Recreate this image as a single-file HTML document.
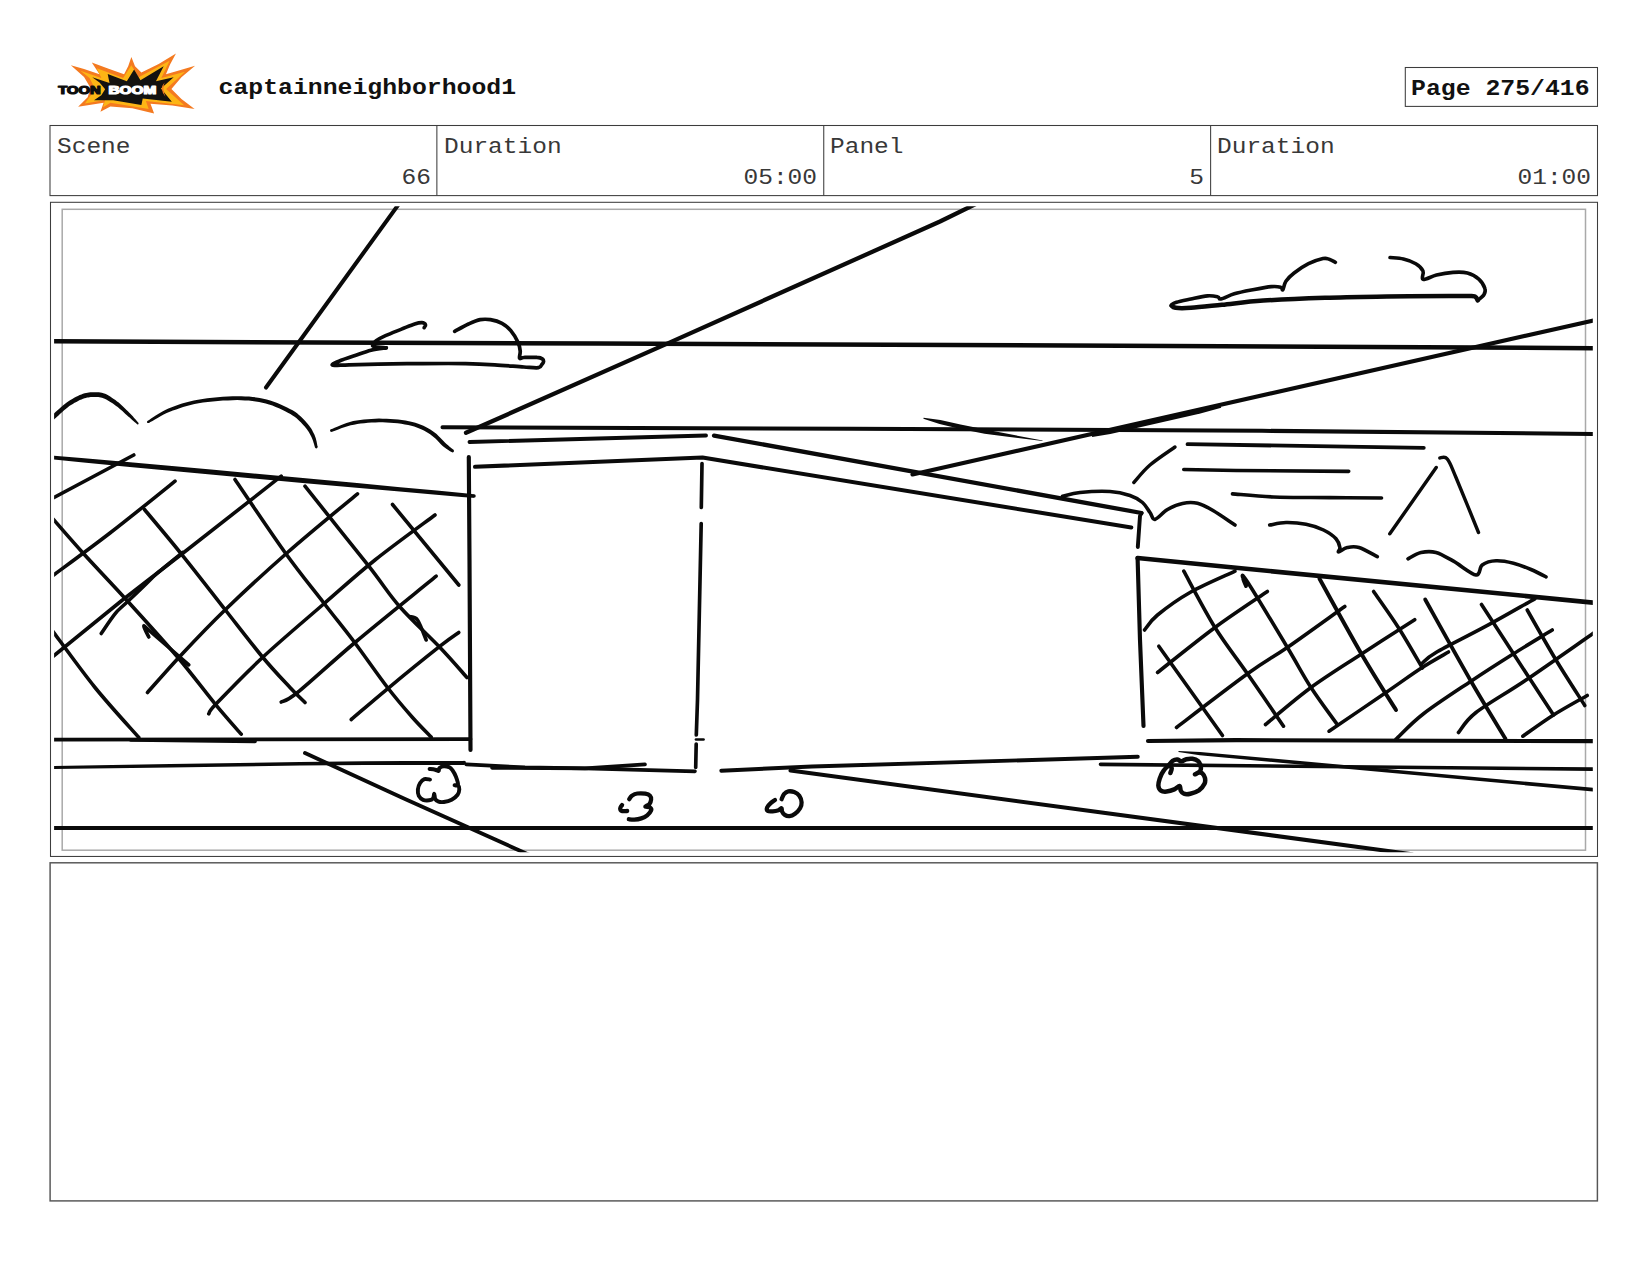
<!DOCTYPE html>
<html lang="en">
<head>
<meta charset="utf-8">
<title>captainneighborhood1 - Page 275/416</title>
<style>
  html, body { margin: 0; padding: 0; background: #fff; }
  body { width: 1648px; height: 1276px; position: relative; overflow: hidden;
         font-family: "Liberation Mono", monospace; color: #1a1a1a; }
  .abs { position: absolute; box-sizing: border-box; }
  .box { border: 1px solid transparent; background: transparent; }
  #title { left: 218.5px; top: 72.6px; font-size: 24.8px; line-height: 28px; font-weight: bold; color: #111; white-space: pre; transform-origin: 0 20.6px; transform: scaleY(0.86); }
  #pagebox { left: 1405px; top: 67px; width: 193px; height: 40px; }
  #pagebox span { position: absolute; left: 5px; top: 6px; font-size: 24.8px; line-height: 28px; font-weight: bold; color: #111; white-space: pre; transform-origin: 0 20.6px; transform: scaleY(0.86); }
  #table { left: 50px; top: 125px; width: 1548px; height: 71px; }
  .cell { position: absolute; top: 0; height: 69px; box-sizing: border-box; }
  .cell + .cell { border-left: 1px solid transparent; }
  .lbl { position: absolute; left: 6px; top: 6.5px; font-size: 24.5px; line-height: 28px; white-space: pre; color: #383838; transform-origin: 0 20.4px; transform: scaleY(0.91); }
  .val { position: absolute; right: 6px; top: 38px; font-size: 24.5px; line-height: 28px; white-space: pre; color: #383838; transform-origin: 0 20.4px; transform: scaleY(0.91); }
  #sketchbox { left: 50px; top: 202px; width: 1548px; height: 655px; }
  #sketch { left: 0; top: 0; }
  #logo { left: 54px; top: 48px; }
</style>
</head>
<body>

<!-- frames (fractional coords reproduce the soft anti-aliased rules) -->
<svg id="frames" class="abs" style="left:0;top:0" width="1648" height="1276" viewBox="0 0 1648 1276">
  <g fill="none" stroke="#3d3d3d" stroke-width="1.05">
    <rect x="1405.3" y="67.5" width="192.2" height="38.9"/>
    <rect x="50" y="125.5" width="1547.5" height="70.1"/>
    <path d="M436.87 125.5V195.6M823.75 125.5V195.6M1210.62 125.5V195.6"/>
    <rect x="50.5" y="202.3" width="1547" height="654.15"/>
  </g>
  <rect x="50.1" y="862.8" width="1547.3" height="338.1" fill="none" stroke="#555" stroke-width="1.45"/>
</svg>

<!-- header -->
<svg id="logo" class="abs" width="150" height="68" viewBox="0 0 1648 747">
  <polygon fill="#f47a20" points="185,190 330,232 500,288 415,160 600,228 770,288 815,200 850,100 890,200 960,268 1150,175 1340,60 1275,180 1230,288 1400,238 1550,195 1400,320 1290,450 1400,560 1545,670 1300,632 1060,612 1100,720 860,662 620,642 510,700 545,602 265,645 370,540 402,440 330,318"/>
  <polygon fill="#fdb515" points="290,250 520,330 470,222 760,330 850,190 930,320 1270,140 1180,330 1440,260 1232,450 1430,630 1010,582 1040,670 620,602 540,650 560,572 340,610 452,450 390,330"/>
  <polygon fill="#141210" points="420,320 610,385 590,285 800,365 880,235 950,355 1205,200 1120,365 1315,320 1175,445 1295,590 975,555 960,625 650,575 440,575 520,520 562,452 500,380"/>
  <path fill="#f47a20" d="M1215,380 Q1150,450 1225,535 Q1185,450 1215,380Z"/>
  <g font-family="'Liberation Sans', sans-serif" font-weight="bold" font-size="116" stroke-width="13" stroke-linejoin="round">
    <text x="46" y="509" textLength="466" lengthAdjust="spacingAndGlyphs" fill="#0d0d0d" stroke="#0d0d0d">TOON</text>
    <text x="598" y="509" textLength="526" lengthAdjust="spacingAndGlyphs" fill="#ffffff" stroke="#ffffff">BOOM</text>
  </g>
</svg>
<div id="title" class="abs">captainneighborhood1</div>
<div id="pagebox" class="abs box"><span>Page 275/416</span></div>

<!-- info table -->
<div id="table" class="abs box">
  <div class="cell" style="left:0;width:386px"><span class="lbl">Scene</span><span class="val">66</span></div>
  <div class="cell" style="left:386px;width:386px"><span class="lbl">Duration</span><span class="val">05:00</span></div>
  <div class="cell" style="left:772px;width:387px"><span class="lbl">Panel</span><span class="val">5</span></div>
  <div class="cell" style="left:1159px;width:387px"><span class="lbl">Duration</span><span class="val">01:00</span></div>
</div>

<!-- sketch panel -->
<div id="sketchbox" class="abs box"></div>
<svg id="sketch" class="abs" width="1648" height="1276" viewBox="0 0 1648 1276">
  <defs><clipPath id="clip"><rect x="54.1" y="206.2" width="1538.7" height="646"/></clipPath></defs>
  <rect x="62.2" y="209.3" width="1523.3" height="640.9" fill="none" stroke="#a9a9a9" stroke-width="1.5"/>
  <g clip-path="url(#clip)" fill="none" stroke="#0a0a0a" stroke-linecap="round" stroke-linejoin="round">
  <!-- STROKES -->
  <!-- long perspective / horizon lines -->
  <path d="M401.9 199.8 L266 387.5" stroke-width="4.03"/>
  <path d="M48 341.3 L600 343.6 L1120 345.8 L1598 348.2" stroke-width="4.51"/>
  <path d="M442.5 427.2 L852 428.8 L1262 430.8 L1598 434" stroke-width="4.03"/>
  <path d="M466 432.8 L670 342.4 L940 221.5 L979.7 202.1" stroke-width="4.27"/>
  <path d="M912.5 474.5 L1597.9 319.4" stroke-width="4.15"/>
  <path d="M1092.2 437 L1110.4 433.9 L1200.4 413.5 L1221.2 407.8 L1220.8 406 L1199.6 409.9 L1109.6 430.3 L1091.8 435.6Z" fill="#0a0a0a" stroke="none"/>
  <path d="M923.4 418.7 L939.6 423.9 L959.5 428.8 L984.6 433.7 L1009.8 436.9 L1042.4 441.1 L1042.6 440.5 L1010.2 434.3 L985.4 429.5 L960.5 424.4 L940.4 420.1 L923.6 417.7Z" fill="#0a0a0a" stroke="none"/>
  <!-- building -->
  <path d="M469.5 442 L706 435.5" stroke-width="3.9"/>
  <path d="M714 435.6 L1141.5 513" stroke-width="4.27"/>
  <path d="M475 466.8 L702.5 457.6 L1131.3 527.5" stroke-width="4.03"/>
  <path d="M468.8 457 L469.5 560 L470.5 750" stroke-width="4.15"/>
  <path d="M1141.5 513 L1140 516 L1137.8 547" stroke-width="3.9"/>
  <path d="M1137.6 558 L1140 640 L1143.5 726" stroke-width="4.15"/>
  <path d="M702 463.5 L701.3 507.5" stroke-width="3.66"/>
  <path d="M701.2 523.5 L697.5 700 L696.3 735" stroke-width="3.66"/>
  <path d="M696 739.5 L703.5 739.5" stroke-width="2.68"/>
  <path d="M696.2 744 L695.7 767.5" stroke-width="3.66"/>
  <path d="M721.3 770.7 L812 766.5 L1137.8 756.8" stroke-width="3.9"/>
  <path d="M466.3 764.3 L525 767.4 L585 768.3 L695 771.3" stroke-width="3.66"/>
  <path d="M492 767.8 L585 768.3 L645 764.3" stroke-width="3.66"/>
  <!-- ground lines -->
  <path d="M48 828.1 L1598 828.1" stroke-width="3.96"/>
  <path d="M48 766 L35.1 769.4 L53 769.1 L170.3 767.4 L300 765.5 L364.3 765.1 L405 765 L441.1 764.9 L464 764.9 L464 760.9 L441.1 760.9 L405 761 L364.2 761.3 L300 762.1 L170.2 764 L53 765.9 L35 766.2 L48 769.2Z" fill="#0a0a0a" stroke="none"/><circle cx="48" cy="767.6" r="1.60" fill="#0a0a0a" stroke="none"/><circle cx="464" cy="762.9" r="2.05" fill="#0a0a0a" stroke="none"/>
  <path d="M48 739.7 L470.5 739.1" stroke-width="3.78"/>
  <path d="M131 739.9 L255 741.3" stroke-width="3.78"/>
  <path d="M305 753 L405 799.1 L533.1 856.6" stroke-width="3.9"/>
  <path d="M1148 741 L1236 740.1 L1598 741.2" stroke-width="4.15"/>
  <path d="M1100.5 764.3 L1598 769.2" stroke-width="3.66"/>
  <path d="M1178.4 752 L1199.8 755.2 L1299.8 764.6 L1597.8 791.9 L1598.2 788.3 L1300.2 761 L1200.2 752 L1178.6 751Z" fill="#0a0a0a" stroke="none"/>
  <path d="M790.5 770.6 L1411.9 854.2" stroke-width="4.03"/>
  <!-- fences top rails -->
  <path d="M48.2 455.4 L45.5 458.8 L52.8 459.4 L81 462.3 L129.8 467.1 L213.3 474.8 L299.8 482.7 L356.5 487.7 L399.8 491.4 L436.3 494.7 L461.8 496.9 L471.7 497.7 L473.8 497.8 L474.2 494.4 L472 494.1 L462.2 493.1 L436.7 490.6 L400.2 487.2 L357 483.1 L300.2 477.7 L213.8 469.8 L130.2 462.2 L81.4 458 L53.2 455.8 L45.9 455.1 L47.8 458.9Z" fill="#0a0a0a" stroke="none"/><circle cx="48" cy="457.1" r="1.80" fill="#0a0a0a" stroke="none"/><circle cx="474" cy="496.1" r="1.75" fill="#0a0a0a" stroke="none"/>
  <path d="M1137.6 558 L1236 567.8 L1598 603.1" stroke-width="4.51"/>
  <!-- small cloud (left) -->
  <path d="M424.1 327.7 C424.4 327.2 426 325.6 425.6 324.8 C425.2 324 423.7 322.7 421.9 322.6 C420.1 322.5 418.1 322.9 414.7 324 C411.3 325.1 406.4 327.2 401.5 329.1 C396.6 331.1 389.7 333.8 385.5 335.7 C381.3 337.6 378.2 339.4 376.1 340.8 C374.1 342.2 373.6 343.4 373.2 344.4 C372.8 345.4 371.7 346 373.9 346.6 C376.1 347.2 384.2 347.6 386.3 347.8" stroke-width="3.6"/>
  <path d="M386.3 347.8 C383.8 348.2 376.5 348.8 371 350.2 C365.5 351.6 358.9 354.3 353.5 356.1 C348.1 357.9 342.4 359.8 338.9 361.2 C335.4 362.6 333.3 363.6 332.6 364.3 C331.9 365 331.9 365.3 334.6 365.4 C337.4 365.5 341.8 365 349.1 364.8 C356.4 364.6 366.1 364.3 378.2 364.1 C390.3 363.9 407.3 363.7 421.9 363.6 C436.5 363.5 453.5 363.4 465.6 363.6 C477.7 363.8 485 364.2 494.7 364.8 C504.4 365.4 516.6 366.5 523.9 367 C531.2 367.5 535.4 368.1 538.4 367.7 C541.4 367.3 540.8 365.8 541.6 364.8 C542.5 363.8 543.4 362.9 543.5 361.9 C543.6 360.9 543.6 359.8 542.5 359 C541.4 358.2 540.1 357.6 537 357.4 C533.9 357.1 526.8 357.4 523.9 357.5 C521 357.6 520.2 359.3 519.6 358.2 C519 357.1 520.5 353.7 520.2 351 C519.9 348.3 519.6 345.6 518 342.2 C516.4 338.8 513.5 333.8 510.8 330.6 C508.1 327.5 505.4 325.1 502 323.3 C498.6 321.5 494 320.3 490.4 319.7 C486.8 319.1 483.8 319 480.2 319.7 C476.6 320.4 472.8 322.1 468.5 324 C464.2 325.9 457 330.1 454.7 331.3" stroke-width="3.72"/>
  <!-- big cloud (right) -->
  <path d="M1335.4 262.3 C1334.4 261.8 1331.3 259.8 1329.2 259.2 C1327.1 258.6 1326.5 257.9 1323 258.6 C1319.5 259.4 1313.3 261.3 1308.5 263.7 C1303.7 266.1 1297.9 270.1 1294.1 273 C1290.3 275.9 1287.8 278.5 1285.9 281.3 C1284 284.1 1283.7 288.8 1282.8 289.8 C1281.9 290.8 1282.6 287.7 1280.7 287.2 C1278.8 286.7 1276.1 286.2 1271.4 286.6 C1266.8 287 1259 288.5 1252.8 289.7 C1246.6 290.9 1239.6 292.2 1234.3 293.8 C1229 295.4 1223.7 298.5 1220.9 299 C1218.2 299.5 1220 297.4 1217.8 296.9 C1215.6 296.4 1212 295.5 1207.5 295.9 C1203 296.2 1196.1 297.9 1190.9 299 C1185.7 300.1 1179.7 301.2 1176.5 302.3 C1173.3 303.4 1171.7 304.6 1171.5 305.5 C1171.3 306.4 1174.8 307.2 1175.5 307.6" stroke-width="3.6"/>
  <path d="M1171.5 305.5 C1172.2 305.9 1172.3 307.4 1175.5 307.8 C1178.7 308.2 1183.2 308.3 1190.9 307.8 C1198.6 307.3 1209.9 306 1221.9 304.8 C1234 303.6 1246 301.8 1263.2 300.6 C1280.4 299.4 1304.5 298.4 1325.1 297.7 C1345.7 297 1366.3 296.8 1386.9 296.5 C1407.5 296.2 1434.7 296.1 1448.8 296 C1462.9 295.9 1467 295.8 1471.5 296 C1476 296.2 1474.7 296.5 1475.7 297.2 C1476.7 297.9 1477.4 299.9 1477.7 300.4" stroke-width="4.51"/>
  <path d="M1477.7 300.4 C1478.7 299.4 1482.7 296.7 1483.9 294.7 C1485.1 292.7 1485.8 291.1 1484.9 288.5 C1484.1 285.9 1481.7 281.8 1478.8 279.2 C1475.9 276.6 1471.7 274.1 1467.4 273 C1463.1 271.9 1458.2 272 1453 272.4 C1447.8 272.8 1441.5 273.9 1436.5 275.1 C1431.5 276.3 1425.2 280.1 1423 279.4 C1420.8 278.7 1424.2 273.5 1423 270.9 C1421.8 268.3 1419.1 265.7 1415.8 263.7 C1412.5 261.7 1407.7 260 1403.4 259 C1399.1 258 1392.2 257.8 1390 257.5" stroke-width="3.6"/>
  <!-- treetop arcs (left) -->
  <path d="M51.5 421.8 L51.8 421.6 L52.1 421.3 L52.4 421 L52.8 420.6 L53.2 420.1 L53.9 419.6 L54.7 418.8 L55.7 417.9 L57 416.8 L58.5 415.4 L60.2 413.8 L62 412.2 L63.8 410.5 L65.7 408.9 L67.6 407.4 L69.3 406.1 L71 405 L72.8 403.9 L74.6 402.8 L76.4 401.9 L78.1 400.9 L79.8 400.1 L81.5 399.4 L83 398.8 L84.5 398.3 L85.8 397.9 L87.1 397.6 L88.3 397.4 L89.5 397.2 L90.7 397.1 L92 397 L93.3 397 L94.6 397 L95.9 396.9 L97.1 397 L98.3 397 L99.5 397.2 L100.8 397.4 L102 397.7 L103.3 398.2 L104.7 398.8 L106.3 399.5 L107.9 400.4 L109.5 401.4 L111.2 402.5 L112.9 403.6 L114.5 404.8 L116.1 406 L117.7 407.1 L119.3 408.4 L120.8 409.8 L122.4 411.1 L123.9 412.5 L125.4 413.9 L126.9 415.2 L128.2 416.4 L129.6 417.6 L130.9 418.7 L132.2 419.9 L133.4 420.9 L134.5 421.9 L135.5 422.8 L136.4 423.6 L137.1 424.1 L138.3 422.9 L137.8 422.2 L137.1 421.3 L136.2 420.3 L135.2 419.1 L134.1 417.9 L133 416.6 L131.8 415.3 L130.6 414 L129.3 412.7 L127.9 411.3 L126.5 409.9 L125 408.4 L123.5 406.9 L121.9 405.4 L120.3 404 L118.7 402.6 L117.1 401.4 L115.4 400.1 L113.7 398.9 L111.9 397.7 L110.2 396.6 L108.5 395.5 L106.8 394.6 L105.1 393.8 L103.4 393.2 L101.8 392.8 L100.3 392.5 L98.8 392.3 L97.3 392.2 L95.9 392.2 L94.5 392.2 L93.1 392.2 L91.7 392.3 L90.3 392.3 L88.9 392.5 L87.5 392.7 L86.1 393 L84.6 393.3 L83 393.8 L81.4 394.4 L79.7 395.1 L77.9 395.9 L76.1 396.8 L74.2 397.8 L72.3 398.9 L70.4 400 L68.5 401.2 L66.7 402.5 L64.8 403.9 L62.9 405.5 L60.9 407.2 L59 408.9 L57.2 410.6 L55.5 412.1 L54 413.5 L52.7 414.7 L51.7 415.6 L50.9 416.4 L50.2 417 L49.7 417.5 L49.3 417.9 L49 418.3 L48.7 418.5 L48.5 418.8Z" fill="#0a0a0a" stroke="none"/><circle cx="50" cy="420.3" r="2.15" fill="#0a0a0a" stroke="none"/><circle cx="137.7" cy="423.5" r="0.90" fill="#0a0a0a" stroke="none"/>
  <path d="M148.8 422.9 L150.4 422.1 L152.5 420.9 L154.9 419.4 L157.6 417.9 L160.5 416.2 L163.6 414.6 L166.7 413.1 L169.8 411.8 L172.9 410.6 L176.2 409.4 L179.6 408.2 L183.1 407 L186.8 406 L190.6 405 L194.5 404.1 L198.6 403.3 L203 402.6 L207.8 402 L212.8 401.5 L217.9 401 L223 400.6 L227.9 400.4 L232.7 400.2 L237.1 400.1 L241.2 400.2 L245 400.4 L248.7 400.6 L252.3 401 L255.7 401.4 L259.1 402 L262.4 402.7 L265.7 403.5 L269 404.4 L272.4 405.6 L275.7 406.9 L279 408.3 L282.1 409.7 L285.1 411.2 L287.9 412.7 L290.4 414.1 L292.6 415.4 L294.6 416.7 L296.3 418.1 L297.9 419.5 L299.4 420.9 L300.8 422.3 L302.1 423.7 L303.5 425.2 L304.7 426.6 L305.9 427.9 L306.9 429.3 L307.9 430.7 L308.8 432.1 L309.6 433.5 L310.4 434.9 L311.1 436.3 L311.8 437.7 L312.4 439.2 L313 440.8 L313.5 442.4 L314 444 L314.4 445.4 L314.7 446.5 L315 447.4 L317.6 446.8 L317.4 445.9 L317.2 444.7 L316.9 443.2 L316.6 441.6 L316.2 439.9 L315.7 438.1 L315.1 436.4 L314.5 434.7 L313.7 433.2 L312.9 431.7 L312.1 430.1 L311.2 428.6 L310.1 427 L309 425.5 L307.8 424 L306.5 422.4 L305.2 420.9 L303.8 419.4 L302.3 417.9 L300.8 416.4 L299 414.9 L297.1 413.3 L295 411.8 L292.6 410.3 L289.9 408.9 L287.1 407.4 L283.9 405.9 L280.7 404.4 L277.3 403 L273.8 401.7 L270.2 400.5 L266.7 399.5 L263.3 398.7 L259.8 398 L256.3 397.4 L252.7 397 L249 396.6 L245.2 396.4 L241.3 396.3 L237.1 396.3 L232.6 396.3 L227.8 396.5 L222.7 396.8 L217.5 397.2 L212.4 397.7 L207.3 398.3 L202.5 398.9 L198 399.7 L193.8 400.5 L189.7 401.5 L185.8 402.5 L182 403.6 L178.4 404.8 L175 406 L171.7 407.3 L168.4 408.6 L165.2 410.1 L162 411.8 L159 413.5 L156.1 415.3 L153.4 417 L151.1 418.6 L149.1 419.9 L147.6 420.9Z" fill="#0a0a0a" stroke="none"/><circle cx="148.2" cy="421.9" r="1.20" fill="#0a0a0a" stroke="none"/><circle cx="316.3" cy="447.1" r="1.30" fill="#0a0a0a" stroke="none"/>
  <path d="M331.8 431.8 L333.5 431.2 L335.7 430.4 L338.3 429.4 L341.2 428.3 L344.3 427.3 L347.5 426.2 L350.8 425.3 L354 424.7 L357.2 424.1 L360.6 423.6 L364.2 423.2 L367.9 422.8 L371.6 422.6 L375.3 422.4 L379 422.3 L382.7 422.3 L386.3 422.5 L390.1 422.7 L393.9 423 L397.6 423.3 L401.3 423.8 L404.9 424.4 L408.2 425 L411.3 425.7 L414.2 426.5 L416.8 427.4 L419.3 428.4 L421.7 429.5 L423.9 430.6 L426 431.8 L428.1 433.1 L430.1 434.3 L432 435.7 L433.9 437.2 L435.7 438.8 L437.4 440.5 L439 442.2 L440.6 443.9 L442.1 445.4 L443.6 446.7 L445 447.8 L446.3 448.7 L447.5 449.6 L448.6 450.3 L449.6 450.9 L450.5 451.4 L451.2 451.8 L451.8 452.1 L453.4 449.9 L452.9 449.4 L452.2 448.8 L451.5 448.2 L450.6 447.5 L449.6 446.7 L448.6 445.8 L447.4 444.8 L446.2 443.7 L444.9 442.5 L443.5 441 L442 439.4 L440.3 437.7 L438.5 435.9 L436.6 434.1 L434.6 432.4 L432.5 430.9 L430.3 429.5 L428.1 428.2 L425.8 427 L423.4 425.8 L420.8 424.7 L418.2 423.7 L415.3 422.7 L412.3 421.9 L409 421.2 L405.5 420.6 L401.8 420 L398.1 419.6 L394.2 419.2 L390.3 418.9 L386.5 418.7 L382.7 418.7 L379 418.6 L375.2 418.7 L371.4 418.9 L367.6 419.2 L363.8 419.6 L360.2 420 L356.6 420.5 L353.2 421.1 L349.9 422 L346.5 423 L343.2 424.2 L340.1 425.5 L337.2 426.7 L334.6 427.8 L332.5 428.7 L330.8 429.4Z" fill="#0a0a0a" stroke="none"/><circle cx="331.3" cy="430.6" r="1.30" fill="#0a0a0a" stroke="none"/><circle cx="452.6" cy="451" r="1.40" fill="#0a0a0a" stroke="none"/>
  <!-- bushes (right) -->
  <path d="M1062.5 496.2 C1065.4 495.6 1072.1 493.3 1080 492.5 C1087.9 491.7 1101.7 491 1110 491.5 C1118.3 492 1124.6 493.7 1130 495.5 C1135.4 497.3 1139.2 499.7 1142.5 502.5 C1145.8 505.3 1147.9 509.7 1150 512.5 C1152.1 515.3 1152.1 519.9 1155 519.4 C1157.9 518.9 1162.9 512.2 1167.5 509.5 C1172.1 506.8 1177.5 504.4 1182.5 503.4 C1187.5 502.4 1192.4 502.1 1197.5 503.3 C1202.6 504.5 1206.8 506.9 1213 510.5 C1219.2 514.1 1231.3 522.6 1235 525" stroke-width="3.6"/>
  <path d="M1269.7 525 C1272.4 524.6 1280 522.6 1286 522.5 C1292 522.4 1299.8 523 1306 524.3 C1312.2 525.5 1318.5 527.6 1323.5 530 C1328.5 532.4 1333.3 535.8 1336 538.8 C1338.7 541.7 1339.5 545.3 1339.9 547.5 C1340.3 549.7 1337.4 552 1338.6 552 C1339.8 552 1343.9 548.2 1347.3 547.5 C1350.7 546.8 1354 546 1359 547.5 C1364 549 1374.2 555.1 1377.3 556.6" stroke-width="3.6"/>
  <path d="M1408 558.8 C1410.2 557.7 1416.3 553.5 1421 552.5 C1425.7 551.5 1430.6 551 1436 552.5 C1441.4 554 1446.8 557.5 1453.5 561.2 C1460.2 565 1471.2 574.4 1476 575 C1480.8 575.6 1478.9 567.4 1482.2 565 C1485.6 562.6 1490.8 561 1496 560.8 C1501.2 560.5 1507.7 561.8 1513.5 563.2 C1519.3 564.7 1525.6 567.2 1531 569.5 C1536.4 571.8 1543.5 575.5 1546 576.8" stroke-width="3.6"/>
  <!-- far building -->
  <path d="M1187.5 444.2 L1423.8 447.8" stroke-width="3.78"/>
  <path d="M1183.8 469.5 L1236 470.5 L1348.7 471.3" stroke-width="3.66"/>
  <path d="M1232.5 493.8 C1239.3 494.3 1257.2 496.4 1273.5 497 C1289.8 497.6 1312 497.4 1330 497.6 C1348 497.8 1372.9 497.9 1381.5 498" stroke-width="3.66"/>
  <path d="M1175 447 C1170.8 450 1156.9 459.1 1150 465 C1143.1 470.9 1136.5 479.6 1133.8 482.5" stroke-width="3.42"/>
  <path d="M1436.2 467.5 L1389.8 533.8" stroke-width="3.42"/>
  <path d="M1439.8 458 C1441 458.1 1444.5 455.6 1447.2 458.9 C1450 462.1 1450.8 465.2 1456 477.5 C1461.2 489.8 1474.8 523.3 1478.5 532.5" stroke-width="3.42"/>
  <!-- left fence hatch -->
  <path d="M49.5 499.9 L133.8 455" stroke-width="3.6"/>
  <path d="M49.8 577.9 C59.8 570.4 89.1 549.1 110 533 C130.9 516.9 164.2 489.9 175 481.2" stroke-width="3.6"/>
  <path d="M49.9 659 L122.5 600 L182.5 553.5 L281.2 476.2" stroke-width="3.6"/>
  <path d="M101.2 633.5 C103.5 630.2 111 618.7 115 613.8 C119 608.8 120 608.8 125 604 C130 599.2 139.6 590.2 145 585 C150.4 579.8 151.2 578.4 157.5 573 C163.8 567.6 178.3 555.9 182.5 552.5" stroke-width="3.6"/>
  <path d="M147.5 692.5 C152.9 686.5 167.1 670 180 656.2 C192.9 642.5 207.1 627.3 225 610 C242.9 592.7 265.4 571.9 287.5 552.5 C309.6 533.1 345.8 503.5 357.5 493.8" stroke-width="3.6"/>
  <path d="M208.8 713.8 C210 712.1 207.3 713.1 216.2 703.8 C225.2 694.4 244.8 674 262.5 657.5 C280.2 641 303.8 621.2 322.5 605 C341.2 588.8 356.2 575 375 560 C393.8 545 425 522.5 435 515" stroke-width="3.6"/>
  <path d="M281.2 702 C284 700.4 285.2 702.4 297.5 692.5 C309.8 682.6 331.9 661.9 355 642.5 C378.1 623.1 422.7 587.3 436.2 576.2" stroke-width="3.6"/>
  <path d="M351.2 719.5 C357.3 714.4 372.7 701 387.5 688.8 C402.3 676.5 428.1 655.6 440 646.2 C451.9 636.9 455.6 634.8 458.8 632.5" stroke-width="3.6"/>
  <path d="M49 514.5 C49.7 515.2 47.4 512.7 53 519 C58.6 525.3 70.1 538.8 82.5 552.5 C94.9 566.2 111.7 583.6 127.5 601 C143.3 618.4 162.9 639.9 177.5 657 C192.1 674.1 204.4 690.9 215 703.8 C225.6 716.6 236.9 729.2 241.2 734.2" stroke-width="3.6"/>
  <path d="M49.5 626.5 C50.1 627.3 45.4 621.3 53 631.5 C60.6 641.7 80.7 669.8 95 687.5 C109.3 705.2 131.5 729.2 138.8 737.5" stroke-width="3.6"/>
  <path d="M144.5 509.5 C150.6 516.9 167.8 537.1 181.2 553.8 C194.7 570.4 211.5 592.3 225 609.5 C238.5 626.7 251.7 644 262.5 657 C273.3 670 282.9 679.9 290 687.5 C297.1 695.1 302.5 700 305 702.5" stroke-width="3.6"/>
  <path d="M235 479.5 C243.3 491.7 270.2 531.9 285 552.5 C299.8 573.1 312.1 587.9 323.8 603 C335.4 618.1 344.4 628.9 355 643 C365.6 657.1 377.9 675.1 387.5 687.5 C397.1 699.9 405.2 709.2 412.5 717.5 C419.8 725.8 428.1 733.8 431.2 737" stroke-width="3.6"/>
  <path d="M305 486.2 C315.6 499.6 352.9 546.1 368.8 566.2 C384.6 586.4 388.1 593.5 400 607 C411.9 620.5 428.8 635.8 440 647.5 C451.2 659.2 462.5 672.5 467 677.5" stroke-width="3.6"/>
  <path d="M392.5 504.5 L458.8 585" stroke-width="3.6"/>
  <path d="M148.8 637 C147.9 635.2 143.5 627.2 143.8 626.2 C144 625.3 142.5 624.8 150 631.2 C157.5 637.7 182.3 659.2 188.8 664.8" stroke-width="3.6"/>
  <path d="M410 616.6 C411.2 617.2 414.8 616.1 417.5 620 C420.2 623.9 424.8 636.7 426.2 640" stroke-width="3.6"/>
  <!-- right fence hatch -->
  <path d="M1144.5 630 C1146.7 627.5 1149.9 621.2 1157.5 615 C1165.1 608.8 1177.1 599.8 1190 592.5 C1202.9 585.2 1227.5 574.8 1235 571.2" stroke-width="3.6"/>
  <path d="M1157.5 672.5 C1167.1 665 1196.7 641 1215 627.5 C1233.3 614 1258.7 597.5 1267.4 591.5" stroke-width="3.6"/>
  <path d="M1176.5 727.5 C1188.3 718.5 1228.9 687.2 1247.5 673.8 C1266.1 660.3 1271.8 658.2 1288 647 C1304.2 635.8 1335.3 613.2 1344.8 606.5" stroke-width="3.6"/>
  <path d="M1265.5 724.5 C1273.1 718.3 1295 699.2 1311 687.5 C1327 675.8 1344.2 665.3 1361.5 654 C1378.8 642.7 1405.8 625.4 1414.7 619.7" stroke-width="3.6"/>
  <path d="M1329 731.2 C1338.5 724.8 1370.5 703.1 1386 692.5 C1401.5 681.9 1411.8 674.2 1422.2 667.5 C1432.7 660.8 1444.1 654.6 1448.5 652" stroke-width="3.6"/>
  <path d="M1422.2 663.2 C1424.5 661.5 1425.4 658.7 1436 652.5 C1446.6 646.3 1469.5 635.2 1486 626.2 C1502.5 617.3 1526.6 603.3 1534.8 598.8" stroke-width="3.6"/>
  <path d="M1396 739.2 C1400.6 735 1411 723.4 1423.5 713.8 C1436 704.1 1456 691.2 1471 681.2 C1486 671.2 1500 662.3 1513.5 653.8 C1527 645.2 1545.8 634 1552.2 630" stroke-width="3.6"/>
  <path d="M1458.5 732.5 C1461.4 729.2 1464.8 721.2 1476 712.5 C1487.2 703.8 1506.5 693.2 1526 680 C1545.5 666.8 1581 641.8 1593 633.5 C1605 625.2 1597.2 630.6 1598 630" stroke-width="3.6"/>
  <path d="M1522.8 736.2 C1527.9 732.7 1542.8 721.8 1553.5 715 C1564.2 708.2 1581.6 698.8 1587.2 695.5" stroke-width="3.6"/>
  <path d="M1158.8 646.2 L1222.5 735.5" stroke-width="3.6"/>
  <path d="M1183.8 571.2 C1189 580.6 1204.4 610.4 1215 627.5 C1225.6 644.6 1236.1 657.3 1247.5 673.8 C1258.9 690.2 1277.5 717.5 1283.5 726.2" stroke-width="3.6"/>
  <path d="M1246 586.2 C1245.5 585 1242.8 579.5 1243 578.8 C1243.2 578 1239.8 569.9 1247.2 581.5 C1254.8 593.1 1277.4 630.8 1288 648.5 C1298.6 666.2 1302.8 674.8 1311 687.5 C1319.2 700.2 1332.9 718.3 1337.2 724.5" stroke-width="3.6"/>
  <path d="M1319.5 578.8 C1326.5 591.3 1348.8 632.1 1361.5 654 C1374.2 675.9 1390.2 700.7 1396 710" stroke-width="3.96"/>
  <path d="M1373.6 591.5 C1377.8 597.7 1390.9 615.8 1399 628.5 C1407.1 641.2 1418.5 661.4 1422.4 668" stroke-width="3.6"/>
  <path d="M1425.2 599.5 C1432.8 613.1 1457.6 658 1471 681.2 C1484.4 704.5 1499.8 729.2 1505.5 738.8" stroke-width="3.84"/>
  <path d="M1481.5 604.5 C1486.8 612.7 1501.5 635.3 1513.5 653.8 C1525.5 672.2 1546.8 704.8 1553.5 715" stroke-width="3.6"/>
  <path d="M1527.2 610 C1532 618.3 1546.4 644.1 1556 660 C1565.6 675.9 1580 697.9 1584.8 705.5" stroke-width="3.6"/>
  <!-- ground puffs -->
  <path d="M430 779.6 C429.1 779.5 426 778.5 424.4 779.1 C422.8 779.7 421.2 781.3 420.1 783 C419 784.7 418.1 787.4 417.9 789.5 C417.7 791.6 417.9 794.2 418.8 795.9 C419.7 797.6 421.4 799.1 423.1 799.8 C424.8 800.5 427.5 800.5 429.1 800.3 C430.8 800.1 432.1 799.6 433 798.5 C433.9 797.4 433.9 793.7 434.3 793.8 C434.7 793.9 434.5 797.7 435.2 799 C435.9 800.3 437.2 801.1 438.6 801.6 C440 802.1 441.6 802.3 443.8 802 C446 801.7 449.3 801 451.6 799.8 C453.9 798.6 456.3 796.4 457.6 794.7 C458.9 793 459.2 791.1 459.3 789.5 C459.4 787.9 458.8 785.9 458 785.2 C457.2 784.5 454.6 785.3 454.6 785.2 C454.6 785.1 457.8 786.1 458 784.7 C458.2 783.3 456.8 779 455.9 776.6 C455 774.2 453.5 771.7 452.4 770.1 C451.2 768.5 450.4 767.8 449 767.1 C447.6 766.5 445.4 766.1 443.8 766.2 C442.2 766.3 440.4 767.1 439.5 767.9 C438.6 768.7 439.3 770.6 438.6 770.9 C437.9 771.2 436.7 770 435.2 769.7 C433.7 769.4 430.5 769.1 429.6 769" stroke-width="3.96"/>
  <path d="M1170.4 773 C1170.6 772.2 1171.9 769.5 1171.7 768.3 C1171.5 767.1 1170.5 765.3 1169.1 765.7 C1167.7 766.1 1165.1 768.8 1163.5 770.9 C1161.9 773 1160.5 776.1 1159.7 778.6 C1158.9 781.1 1158.2 783.9 1158.4 785.9 C1158.6 787.9 1159.5 789.8 1160.9 790.7 C1162.3 791.7 1164.4 791.8 1166.6 791.6 C1168.8 791.4 1172.1 790.4 1174.3 789.4 C1176.5 788.4 1178.4 785.7 1179.5 785.9 C1180.6 786.1 1180.1 789.4 1180.8 790.7 C1181.5 792 1182.2 793.2 1183.8 793.7 C1185.4 794.2 1187.8 794.3 1190.3 793.7 C1192.8 793.1 1196.5 791.9 1198.9 790.3 C1201.3 788.6 1203.5 785.9 1204.5 783.8 C1205.5 781.7 1205.3 779.5 1204.9 777.8 C1204.5 776.1 1203.3 774.3 1202.3 773.4 C1201.3 772.5 1200.1 772.5 1198.9 772.6 C1197.7 772.8 1194.8 774.6 1195 774.3 C1195.2 774 1199.3 772.3 1200.2 770.9 C1201.1 769.5 1201 767.4 1200.6 765.7 C1200.2 764 1199.4 762 1198 760.9 C1196.6 759.8 1194.3 759.1 1192.4 758.8 C1190.5 758.5 1188.2 758.8 1186.4 759.2 C1184.6 759.6 1183.1 761.2 1181.6 761.3 C1180.1 761.4 1178.8 759.7 1177.3 759.6 C1175.8 759.5 1174 760 1172.6 760.9 C1171.2 761.8 1169.7 764.1 1169.1 764.8" stroke-width="4.51"/>
  <path d="M629.2 799.2 C629.7 798.6 630.5 796.7 631.9 795.7 C633.3 794.8 635.2 793.8 637.4 793.5 C639.6 793.2 643.2 793.3 645.3 793.7 C647.4 794.1 649 794.7 650 795.7 C651 796.7 651.2 798.2 651.1 799.6 C651 801 650.2 803.1 649.2 804.3 C648.2 805.5 645.2 806.1 645.3 806.6 C645.4 807.1 649 806.7 650 807.4 C651 808.1 651.6 809.3 651.1 810.6 C650.6 811.9 648.8 814 647.2 815.3 C645.6 816.6 643.4 817.7 641.3 818.4 C639.1 819.1 636.4 819.5 634.3 819.6 C632.2 819.7 629.7 819.3 628.8 819.2" stroke-width="4.27"/>
  <path d="M622.1 805.1 C621.8 805.6 620.2 807.2 620.2 808.2 C620.2 809.2 620.6 810.5 621.8 811 C623 811.5 626.3 811 627.2 811" stroke-width="4.27"/>
  <path d="M775 800 C774.3 800.5 772 801.9 770.7 803.1 C769.4 804.3 767.6 806.1 767.1 807.4 C766.6 808.7 767 810.4 767.9 811 C768.8 811.6 770.8 811.4 772.6 811.3 C774.4 811.2 777 810.7 778.5 810.2 C780 809.7 781 808 781.6 808.2 C782.2 808.4 781.5 810.2 782 811.3 C782.5 812.4 783.5 814.1 784.8 814.9 C786 815.7 787.8 816.3 789.5 816.1 C791.2 815.9 793.2 815 795 813.7 C796.8 812.4 799 810.1 800.1 808.2 C801.2 806.3 801.7 804.4 801.6 802.3 C801.5 800.2 800.5 797.4 799.3 795.7 C798.1 794 796 792.8 794.2 792.1 C792.4 791.4 790 791.1 788.3 791.4 C786.6 791.7 785.1 792.8 784 794.1 C782.9 795.4 782 798.4 781.6 799.2" stroke-width="4.27"/>
  <!-- /STROKES -->
  </g>
</svg>

<!-- notes panel is drawn in #frames -->

</body>
</html>
